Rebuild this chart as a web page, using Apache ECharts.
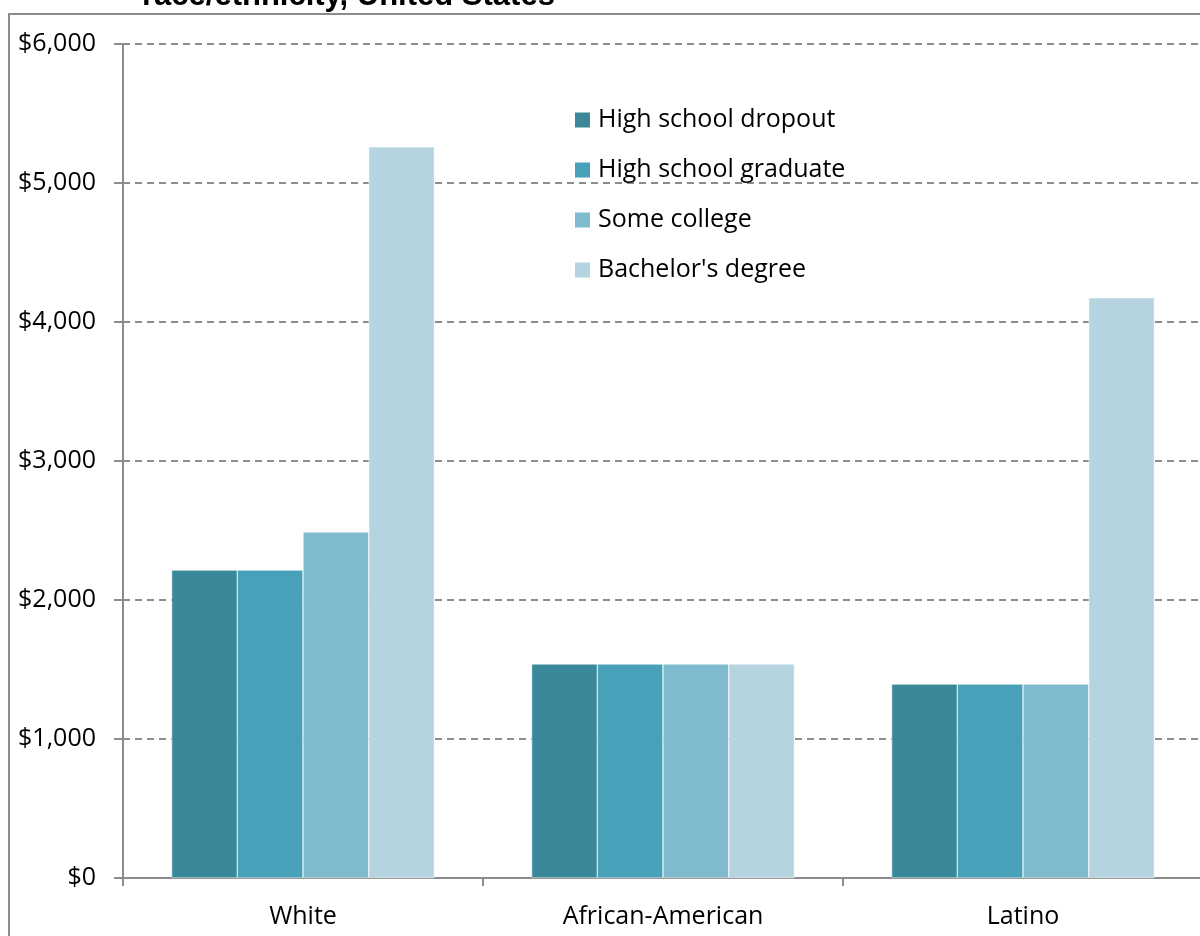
<!DOCTYPE html>
<html><head><meta charset="utf-8">
<script src="https://cdn.jsdelivr.net/npm/echarts@6/dist/echarts.min.js"></script>
<style>html,body{margin:0;padding:0;background:#fff}#c{width:1200px;height:936px}</style>
</head><body><div id="c"></div>
<script>
const categories = ['White', 'African-American', 'Latino'];
const seriesNames = ['High school dropout', 'High school graduate', 'Some college', "Bachelor's degree"];
const dropout = [2215, 1540, 1395];
const graduate = [2215, 1540, 1395];
const someCollege = [2490, 1540, 1395];
const bachelor = [5260, 1540, 4175];
const yTicks = [0, 1000, 2000, 3000, 4000, 5000, 6000];
const colors = ['#3B889A', '#48A1B9', '#7FBACF', '#B6D4E0'];
const values = [dropout, graduate, someCollege, bachelor];

const chart = echarts.init(document.getElementById('c'));
const font = '"Open Sans", Lato, sans-serif';
chart.setOption({
  animation: false,
  textStyle: { fontFamily: font },
  graphic: [
    { type: 'rect', shape: { x: 9, y: 14, width: 1300, height: 1000 }, style: { fill: 'none', stroke: '#8c8c8c', lineWidth: 2 }, z: -1 },
    { type: 'text', x: 142, y: -19, style: { text: 'race/ethnicity, United States', font: 'bold 31px "Liberation Sans", Arial, sans-serif', fill: '#000' } }
  ],
  legend: {
    orient: 'vertical', left: 568, top: 102, itemGap: 24, itemWidth: 17, itemHeight: 17,
    icon: 'rect',
    textStyle: { fontSize: 25, lineHeight: 26, color: '#000', fontFamily: font, padding: [0, 0, 0, 2] },
    data: seriesNames
  },
  grid: { left: 123, width: 1080, top: 44, bottom: 58, containLabel: false, outerBoundsMode: 'none' },
  xAxis: {
    type: 'category', data: categories,
    axisLine: { lineStyle: { color: '#8c8c8c', width: 2 } },
    axisTick: { show: true, length: 8, lineStyle: { color: '#8c8c8c', width: 2 } },
    axisLabel: { fontSize: 25, color: '#000', margin: 26, fontFamily: font }
  },
  yAxis: {
    type: 'value', min: yTicks[0], max: yTicks[yTicks.length - 1], interval: 1000,
    axisLine: { show: true, lineStyle: { color: '#8c8c8c', width: 2 } },
    axisTick: { show: true, length: 9, lineStyle: { color: '#8c8c8c', width: 2 } },
    axisLabel: { fontSize: 25, color: '#000', margin: 27, fontFamily: font,
      formatter: v => '$' + v.toLocaleString('en-US') },
    splitLine: { show: true, lineStyle: { color: '#8c8c8c', width: 2, type: [7, 5] } }
  },
  series: seriesNames.map((n, i) => ({
    name: n, type: 'bar', data: values[i], barGap: '0%', barCategoryGap: '27%',
    itemStyle: { color: colors[i], borderColor: '#ffffff', borderWidth: 0.5 }
  }))
});
</script></body></html>
